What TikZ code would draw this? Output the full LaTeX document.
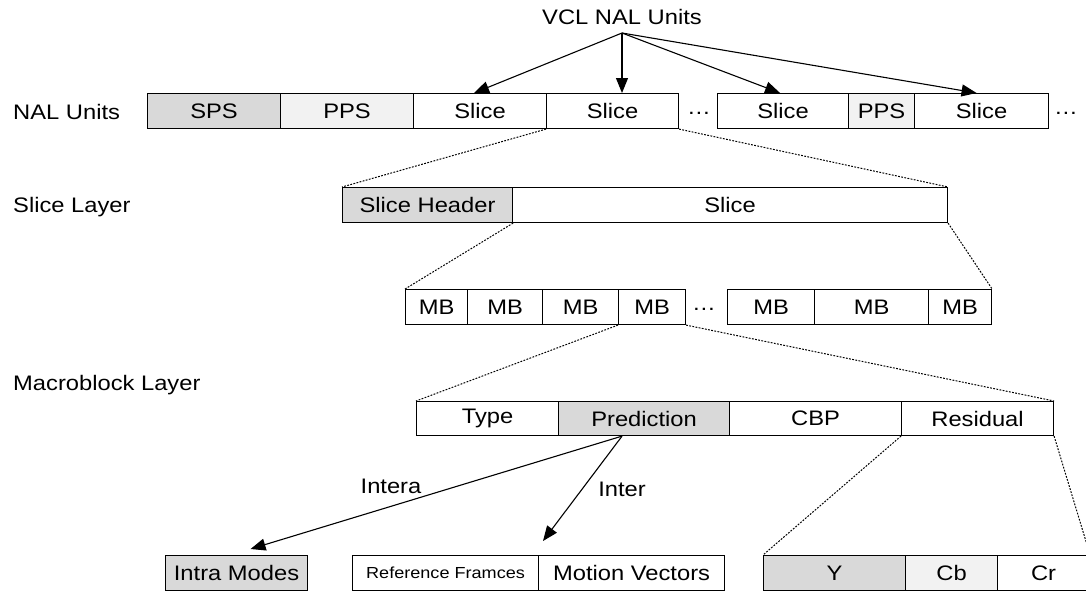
\documentclass[tikz,border=0pt]{standalone}
\usepackage{fontspec}
\setmainfont{Liberation Sans}[FakeStretch=1.13]
\usetikzlibrary{arrows.meta,calc}

\definecolor{darkfill}{HTML}{D9D9D9}
\definecolor{lightfill}{HTML}{F2F2F2}

\begin{document}
\begin{tikzpicture}[x=1pt,y=-1pt,
  txt/.style={font=\fontsize{21}{21}\selectfont},
  cell/.style={draw, line width=1.1pt, rectangle, inner sep=0pt,
    anchor=north west, minimum height=35pt, txt},
  dark/.style={fill=darkfill},
  light/.style={fill=lightfill},
  lbl/.style={anchor=west, inner sep=0pt, txt},
  arr/.style={-{Triangle[length=15pt,width=12pt]}, line width=1.1pt},
  dotline/.style={line width=1pt, dash pattern=on 1.8pt off 1.4pt}]

\useasboundingbox (0,0) rectangle (1086,590);
\clip (0,0) rectangle (1086,590);

% layer titles
\node[lbl] (tNal)   at (13,112) {NAL Units};
\node[lbl] (tSlice) at (13,207) {Slice Layer};
\node[lbl] (tMb)    at (13,385) {Macroblock Layer};

% NAL unit row
\node[cell,dark,  minimum width=133pt] (sps)  at (147,93) {SPS};
\node[cell,light, minimum width=133pt] (pps1) at (280,93) {PPS};
\node[cell,       minimum width=133pt] (sl1)  at (413,93) {Slice};
\node[cell,       minimum width=132pt] (sl2)  at (546,93) {Slice};
\node[txt, inner sep=0pt] (dotsA) at (699,113) {\ldots};
\node[cell,       minimum width=131pt] (sl3)  at (717,93) {Slice};
\node[cell,light, minimum width=66pt]  (pps2) at (848,93) {PPS};
\node[cell,       minimum width=134pt] (sl4)  at (914,93) {Slice};
\node[txt, inner sep=0pt] (dotsB) at (1066,113) {\ldots};

% VCL NAL units pointer
\node[txt, inner sep=0pt] (vcl) at (622,17) {VCL NAL Units};
\coordinate (vclpt) at (622,33);
\draw[arr] (vclpt) -- ([xshift=-6pt]sl1.north);
\draw[arr] (vclpt) -- (vclpt |- sl2.north);
\draw[arr] (vclpt) -- ([xshift=-3pt]sl3.north);
\draw[arr] (vclpt) -- ([xshift=-5pt]sl4.north);

% slice layer
\node[cell,dark, minimum width=170pt] (shdr) at (342,187) {Slice Header};
\node[cell,      minimum width=435pt] (sdat) at (512,187) {Slice};
\draw[dotline] (sl2.south west) -- (shdr.north west);
\draw[dotline] (sl2.south east) -- (sdat.north east);

% macroblock row
\node[cell, minimum width=62pt]  (mb1) at (405,289) {MB};
\node[cell, minimum width=75pt]  (mb2) at (467,289) {MB};
\node[cell, minimum width=76pt]  (mb3) at (542,289) {MB};
\node[cell, minimum width=67pt]  (mb4) at (618,289) {MB};
\node[txt, inner sep=0pt] (dotsC) at (704,309) {\ldots};
\node[cell, minimum width=87pt]  (mb5) at (727,289) {MB};
\node[cell, minimum width=114pt] (mb6) at (814,289) {MB};
\node[cell, minimum width=63pt]  (mb7) at (928,289) {MB};
\draw[dotline] (shdr.south east) -- (mb1.north west);
\draw[dotline] (sdat.south east) -- (mb7.north east);

% macroblock layer
\node[cell, minimum height=34pt, minimum width=142pt]      (mtype) at (416,401) {Type};
\node[cell,dark, minimum height=34pt, minimum width=171pt] (mpred) at (558,401) {Prediction};
\node[cell, minimum height=34pt, minimum width=172pt]      (mcbp)  at (729,401) {CBP};
\node[cell, minimum height=34pt, minimum width=152pt]      (mres)  at (901,401) {Residual};
\draw[dotline] (mb4.south west) -- (mtype.north west);
\draw[dotline] (mb4.south east) -- (mres.north east);

% prediction contents
\node[cell,dark, minimum width=142pt] (intra) at (165,555) {Intra Modes};
\node[cell, minimum width=186pt, font=\fontsize{16}{16}\selectfont] (refs) at (352,555) {Reference Framces};
\node[cell, minimum width=186pt] (mvec) at (538,555) {Motion Vectors};
\coordinate (pfork) at ($(mpred.south)+(-22,0)$);
\draw[arr] (pfork) -- ($(intra.north)+(14,-6)$);
\draw[arr] (pfork) -- ($(mvec.north west)+(5,-14)$);
\node[txt, inner sep=0pt] (lintera) at (391,486) {Intera};
\node[txt, inner sep=0pt] (linter)  at (622,489) {Inter};

% residual contents
\node[cell,dark,  minimum width=142pt] (cy)  at (763,555) {Y};
\node[cell,light, minimum width=92pt]  (ccb) at (905,555) {Cb};
\node[cell,       minimum width=92pt]  (ccr) at (997,555) {Cr};
\draw[dotline] (mres.south west) -- (cy.north west);
\draw[dotline] (mres.south east) -- (ccr.north east);
\end{tikzpicture}
\end{document}
